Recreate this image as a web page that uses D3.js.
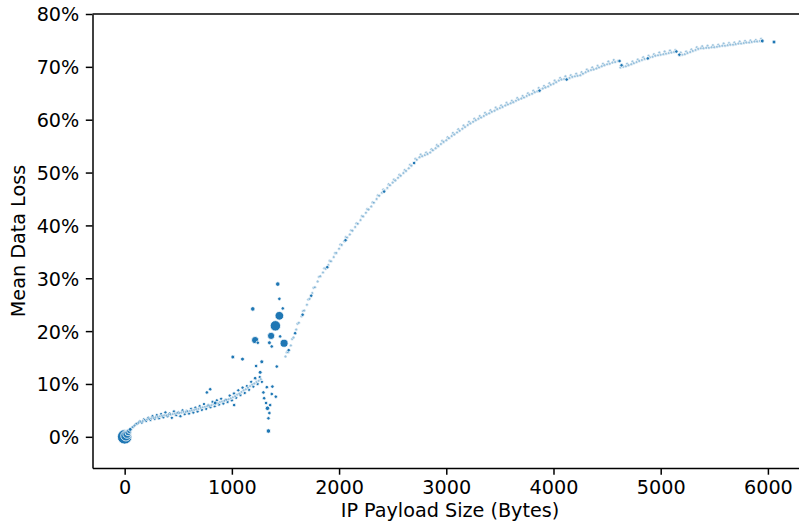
<!DOCTYPE html>
<html lang="en">
<head>
	<meta charset="UTF-8">
	<title>Mean Data Loss vs IP Payload Size</title>
	<script src="https://cdn.jsdelivr.net/npm/d3@7"></script>
	<style>
		body { margin: 0; background: #fff; }
		svg { display: block; font-family: "DejaVu Sans", sans-serif; }
	</style>
</head>
<body>
	<svg id="grafico" width="799" height="525"></svg>
	<script>
	// payload sizes (bytes) and mean loss (%)

	// points right at zero, big sample counts
	var zeroX = [0, 12, 22, 32, 42, 52];
	var zeroY = [0.0, 0.2, 0.5, 0.8, 1.1, 1.4];
	var zeroN = [110, 50, 28, 14, 7, 3];

	// low band, 60 - 1280 bytes
	var lowX = [60, 80, 100, 120, 140, 160, 180, 200, 220, 240, 260, 280, 300, 320, 340, 360, 380, 400, 420, 440,
		460, 480, 500, 520, 540, 560, 580, 600, 620, 640, 660, 680, 700, 720, 740, 760, 780, 800, 820, 840,
		860, 880, 900, 920, 940, 960, 980, 1000, 1020, 1040, 1060, 1080, 1100, 1120, 1140, 1160, 1180, 1200, 1220, 1240,
		1260, 1280];
	var lowY = [1.5, 1.9, 2.3, 2.5, 2.9, 2.7, 3.3, 3.0, 3.6, 3.2, 3.9, 3.4, 4.1, 3.5, 4.3, 3.7, 4.6, 3.9, 4.4, 3.6,
		4.8, 4.1, 4.6, 3.9, 5.0, 4.3, 4.9, 4.4, 5.3, 4.6, 5.5, 4.8, 5.8, 5.1, 6.2, 5.3, 6.0, 5.6, 6.6, 5.8,
		6.9, 6.1, 7.2, 6.3, 7.0, 6.6, 7.8, 6.9, 8.2, 7.4, 8.8, 7.9, 9.3, 8.3, 9.6, 8.9, 10.4, 9.5, 11.0, 10.0,
		11.3, 10.4];
	var lowMidX = [70, 90, 110, 130, 150, 170, 190, 210, 230, 250, 270, 290, 310, 330, 350, 370, 390, 410, 430, 450,
		470, 490, 510, 530, 550, 570, 590, 610, 630, 650, 670, 690, 710, 730, 750, 770, 790, 810, 830, 850,
		870, 890, 910, 930, 950, 970, 990, 1010, 1030, 1050, 1070, 1090, 1110, 1130, 1150, 1170, 1190, 1210, 1230, 1250,
		1270];
	var lowMidY = [1.8, 2.1, 2.5, 2.7, 2.9, 3.0, 3.2, 3.3, 3.4, 3.5, 3.6, 3.7, 3.8, 3.9, 4.0, 4.1, 4.1, 4.2, 4.2, 4.3,
		4.4, 4.5, 4.5, 4.6, 4.7, 4.7, 4.8, 4.9, 5.0, 5.1, 5.2, 5.3, 5.5, 5.6, 5.7, 5.8, 5.9, 6.0, 6.2, 6.3,
		6.4, 6.6, 6.7, 6.8, 7.0, 7.1, 7.3, 7.5, 7.7, 8.0, 8.2, 8.5, 8.8, 9.0, 9.3, 9.6, 9.9, 10.1, 10.4, 10.6,
		10.9];

	// scattered points around the 1500 byte MTU
	var spikeX = [767, 798, 844, 1009, 1021, 1099, 1195, 1217, 1217, 1226, 1242, 1264, 1279, 1294, 1301, 1319, 1326, 1332,
		1341, 1341, 1350, 1350, 1357, 1366, 1372, 1372, 1378, 1406, 1410, 1419, 1428, 1443, 1443, 1450, 1475, 1487];
	var spikeY = [8.4, 9.0, 6.4, 15.1, 6.0, 14.7, 24.2, 18.3, 11.1, 13.4, 17.8, 12.2, 14.2, 8.4, 7.3, 6.4, 9.4, 5.4,
		3.5, 1.1, 4.5, 17.8, 6.0, 19.1, 8.1, 17.1, 9.5, 21.0, 7.6, 13.3, 28.9, 22.9, 26.1, 19.0, 24.3, 17.7];
	var spikeN = [2, 2, 3, 3, 2, 3, 5, 20, 2, 2, 2, 3, 3, 2, 2, 2, 2, 5,
		2, 5, 2, 3, 2, 20, 2, 2, 2, 50, 2, 2, 5, 32, 2, 2, 2, 26];

	// main curve, 1500 - 5950 bytes
	var curveX = [1500, 1525, 1550, 1575, 1600, 1625, 1650, 1675, 1700, 1725, 1750, 1775, 1800, 1825, 1850, 1875, 1900, 1925, 1950, 1975,
		2000, 2025, 2050, 2075, 2100, 2125, 2150, 2175, 2200, 2225, 2250, 2275, 2300, 2325, 2350, 2375, 2400, 2425, 2450, 2475,
		2500, 2525, 2550, 2575, 2600, 2625, 2650, 2675, 2700, 2725, 2750, 2775, 2800, 2825, 2850, 2875, 2900, 2925, 2950, 2975,
		3000, 3025, 3050, 3075, 3100, 3125, 3150, 3175, 3200, 3225, 3250, 3275, 3300, 3325, 3350, 3375, 3400, 3425, 3450, 3475,
		3500, 3525, 3550, 3575, 3600, 3625, 3650, 3675, 3700, 3725, 3750, 3775, 3800, 3825, 3850, 3875, 3900, 3925, 3950, 3975,
		4000, 4025, 4050, 4075, 4100, 4125, 4150, 4175, 4200, 4225, 4250, 4275, 4300, 4325, 4350, 4375, 4400, 4425, 4450, 4475,
		4500, 4525, 4550, 4575, 4600, 4625, 4650, 4675, 4700, 4725, 4750, 4775, 4800, 4825, 4850, 4875, 4900, 4925, 4950, 4975,
		5000, 5025, 5050, 5075, 5100, 5125, 5150, 5175, 5200, 5225, 5250, 5275, 5300, 5325, 5350, 5375, 5400, 5425, 5450, 5475,
		5500, 5525, 5550, 5575, 5600, 5625, 5650, 5675, 5700, 5725, 5750, 5775, 5800, 5825, 5850, 5875, 5900, 5925, 5950];
	var curveY = [15.2, 16.0, 17.3, 18.8, 20.3, 21.6, 22.8, 23.9, 25.0, 26.1, 27.2, 28.3, 29.4, 30.4, 31.1, 31.8, 32.5, 33.2, 34.0, 34.8,
		35.6, 36.3, 37.0, 37.7, 38.3, 39.0, 39.7, 40.3, 41.0, 41.7, 42.4, 43.0, 43.6, 44.3, 45.0, 45.6, 46.2, 46.6, 47.1, 47.6,
		48.1, 48.5, 49.0, 49.4, 49.9, 50.3, 50.8, 51.3, 51.9, 52.4, 52.9, 53.1, 53.3, 53.5, 53.8, 54.2, 54.6, 55.0, 55.4, 55.8,
		56.1, 56.5, 56.9, 57.2, 57.6, 57.9, 58.3, 58.6, 59.0, 59.3, 59.6, 59.9, 60.2, 60.4, 60.7, 61.0, 61.2, 61.5, 61.7, 62.0,
		62.2, 62.4, 62.7, 62.9, 63.1, 63.3, 63.6, 63.8, 64.0, 64.2, 64.5, 64.7, 64.9, 65.2, 65.4, 65.7, 65.9, 66.1, 66.3, 66.6,
		66.8, 67.1, 67.4, 67.6, 67.7, 67.8, 67.9, 68.1, 68.2, 68.3, 68.4, 68.7, 69.0, 69.2, 69.4, 69.5, 69.7, 69.9, 70.1, 70.3,
		70.5, 70.6, 70.8, 70.9, 71.1, 69.9, 70.0, 70.1, 70.3, 70.5, 70.7, 70.9, 71.1, 71.3, 71.5, 71.6, 71.8, 71.9, 72.1, 72.2,
		72.3, 72.4, 72.5, 72.6, 72.7, 72.8, 72.9, 72.2, 72.3, 72.4, 72.6, 72.8, 73.0, 73.2, 73.4, 73.5, 73.5, 73.6, 73.6, 73.7,
		73.7, 73.8, 73.9, 74.0, 74.0, 74.1, 74.2, 74.2, 74.3, 74.4, 74.4, 74.5, 74.6, 74.6, 74.7, 74.8, 74.8, 74.9, 75.0];

	// second row of the curve, sitting a little above the first
	var curveMidX = [1512, 1562, 1612, 1662, 1712, 1762, 1812, 1862, 1912, 1962, 2012, 2062, 2112, 2162, 2212, 2262, 2312, 2362, 2412, 2462,
		2512, 2562, 2612, 2662, 2712, 2762, 2812, 2862, 2912, 2962, 3012, 3062, 3112, 3162, 3212, 3262, 3312, 3362, 3412, 3462,
		3512, 3562, 3612, 3662, 3712, 3762, 3812, 3862, 3912, 3962, 4012, 4062, 4112, 4162, 4212, 4262, 4312, 4362, 4412, 4462,
		4512, 4562, 4637, 4687, 4737, 4787, 4837, 4887, 4937, 4987, 5037, 5087, 5137, 5187, 5237, 5287, 5337, 5387, 5437, 5487,
		5537, 5587, 5637, 5687, 5737, 5787, 5837, 5887, 5937];
	var curveMidY = [16.0, 18.5, 21.4, 23.8, 26.0, 28.2, 30.3, 31.9, 33.3, 34.8, 36.4, 37.8, 39.1, 40.4, 41.8, 43.1, 44.4, 45.7, 46.8, 47.8,
		48.7, 49.6, 50.5, 51.5, 52.6, 53.4, 53.8, 54.4, 55.2, 56.0, 56.7, 57.5, 58.2, 58.9, 59.6, 60.2, 60.7, 61.3, 61.8, 62.3,
		62.7, 63.2, 63.6, 64.1, 64.5, 65.0, 65.5, 66.0, 66.4, 66.9, 67.4, 67.9, 68.2, 68.4, 68.7, 69.0, 69.5, 69.9, 70.2, 70.6,
		71.0, 71.3, 70.4, 70.6, 71.0, 71.4, 71.8, 72.1, 72.4, 72.7, 72.9, 73.1, 73.2, 72.7, 72.9, 73.3, 73.7, 73.9, 74.0, 74.1,
		74.2, 74.4, 74.5, 74.6, 74.8, 74.9, 75.0, 75.1, 75.3];

	// darker points sitting on the curve
	var heavyX = [1530, 1590, 1660, 1740, 1890, 2060, 2420, 2700, 3870, 4123, 4616, 4635, 4880, 5146, 5174, 5947, 6057];
	var heavyY = [16.4, 19.6, 23.1, 26.7, 32.1, 37.2, 46.4, 51.8, 65.5, 67.6, 71.1, 70.3, 71.6, 72.9, 72.3, 74.9, 74.7];
	var heavyN = [2, 2, 2, 2, 2, 2, 2, 2, 2, 2, 2, 2, 2, 2, 2, 3, 3];

	var yTicks = [0, 10, 20, 30, 40, 50, 60, 70, 80];
	var xTicks = [0, 1000, 2000, 3000, 4000, 5000, 6000];

	// n: sample count per point (array) or the same count for the whole list (number)
	function pontos(xs, ys, ns) {
		return xs.map(function (x, i) {
			var n = Array.isArray(ns) ? ns[i] : (ns || 1);
			return { x: x, y: ys[i], n: n };
		});
	}

	var dados = [].concat(
		pontos(lowX, lowY, 1.5),
		pontos(lowMidX, lowMidY, 1),
		pontos(curveMidX, curveMidY, 1),
		pontos(curveX, curveY, 1),
		pontos(spikeX, spikeY, spikeN),
		pontos(heavyX, heavyY, heavyN),
		pontos(zeroX, zeroY, zeroN)
	);

	var svg = d3.select("#grafico");
	var mLeft = 92.5, mRight = 806.5, mTop = 14, mBottom = 468;

	var x = d3.scaleLinear().domain([-300, 6360]).range([mLeft, mRight]);
	var y = d3.scaleLinear().domain([-5.9, 80]).range([mBottom, mTop]);
	var r = d3.scaleSqrt().domain([1, 100]).range([1.5, 7]);

	var cor = "#1f77b4";
	var fonte = 19.2;

	svg.append("g").selectAll("circle")
		.data(dados)
		.enter().append("circle")
		.attr("cx", function (d) { return x(d.x); })
		.attr("cy", function (d) { return y(d.y); })
		.attr("r", function (d) { return r(d.n); })
		.attr("fill", cor)
		.attr("fill-opacity", function (d) { return d.n > 1 ? 1 : 0.45; })
		.attr("stroke", "#fff")
		.attr("stroke-width", function (d) { return d.n > 1 ? 0.8 : 0.6; });

	// axes
	var eixoX = svg.append("g")
		.attr("transform", "translate(0," + mBottom + ")")
		.call(d3.axisBottom(x).tickValues(xTicks).tickSize(6.7).tickPadding(5.5).tickSizeOuter(0).tickFormat(d3.format("d")));
	var eixoY = svg.append("g")
		.attr("transform", "translate(" + mLeft + ",0)")
		.call(d3.axisLeft(y).tickValues(yTicks).tickSize(6.7).tickPadding(6.5).tickSizeOuter(0).tickFormat(function (d) { return d + "%"; }));

	[eixoX, eixoY].forEach(function (g) {
		g.select(".domain").attr("stroke", "#000").attr("stroke-width", 1.5);
		g.selectAll(".tick line").attr("stroke", "#000").attr("stroke-width", 1.5);
		g.selectAll(".tick text").attr("fill", "#000").style("font-size", fonte + "px").style("font-family", "DejaVu Sans");
	});
	eixoY.selectAll(".tick text").attr("dy", "0.36em");

	// top spine
	svg.append("line")
		.attr("x1", mLeft).attr("x2", mRight)
		.attr("y1", mTop).attr("y2", mTop)
		.attr("stroke", "#000").attr("stroke-width", 1.5);

	svg.append("text")
		.attr("x", 450)
		.attr("y", 517)
		.attr("text-anchor", "middle")
		.style("font-size", fonte + "px")
		.text("IP Payload Size (Bytes)");

	svg.append("text")
		.attr("transform", "translate(25," + ((mTop + mBottom) / 2) + ") rotate(-90)")
		.attr("text-anchor", "middle")
		.style("font-size", fonte + "px")
		.text("Mean Data Loss");
	</script>
</body>
</html>
